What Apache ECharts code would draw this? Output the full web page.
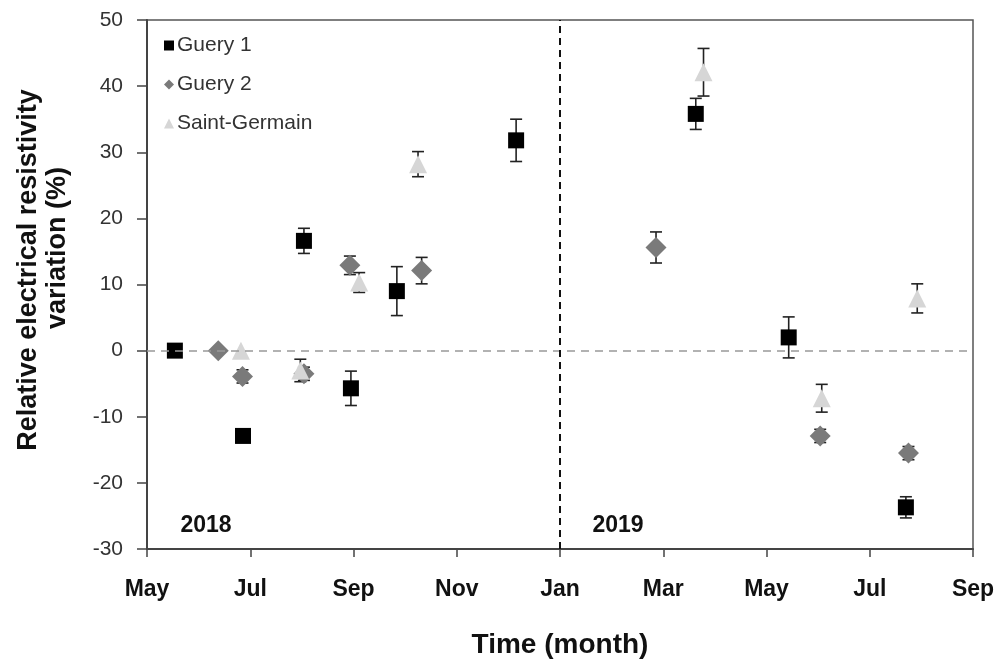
<!DOCTYPE html>
<html><head><meta charset="utf-8">
<script src="https://cdn.jsdelivr.net/npm/echarts@6/dist/echarts.min.js"></script>
<style>html,body{margin:0;padding:0;background:#fff}#c{width:1008px;height:666px}</style>
</head><body><div id="c"></div>
<script>
// x = months since 1 May 2018
const monthLabels = ['May','Jul','Sep','Nov','Jan','Mar','May','Jul','Sep'];
const seriesNames = ['Guery 1','Guery 2','Saint-Germain'];

const guery1X   = [0.54, 1.86, 3.04, 3.95, 4.84, 7.15, 10.63, 12.43, 14.70];
const guery1Y   = [0, -12.9, 16.6, -5.7, 9.0, 31.8, 35.8, 2.0, -23.7];
const guery1Err = [0, 0.8, 1.9, 2.6, 3.7, 3.2, 2.35, 3.1, 1.6];

const guery2X   = [1.38, 1.85, 3.04, 3.93, 5.32, 9.86, 13.04, 14.75];
const guery2Y   = [0, -3.9, -3.5, 12.9, 12.1, 15.6, -12.9, -15.5];
const guery2Err = [0, 1.0, 1.0, 1.4, 2.0, 2.35, 1.0, 1.0];

const sgX   = [1.82, 2.97, 4.11, 5.25, 10.78, 13.07, 14.92];
const sgY   = [0, -3.0, 10.3, 28.2, 42.1, -7.2, 7.9];
const sgErr = [0, 1.7, 1.5, 1.9, 3.6, 2.1, 2.2];

const yearLabels = ['2018', '2019'];

const FONT = "'Liberation Sans', Arial, sans-serif";
const chart = echarts.init(document.getElementById('c'));

function pts(xs, ys) { return xs.map((x, i) => [x, ys[i]]); }
function errPts(xs, ys, es) { return xs.map((x, i) => [x, ys[i], es[i]]); }

function errSeries(xs, ys, es) {
  return {
    type: 'custom',
    z: 2,
    silent: true,
    data: errPts(xs, ys, es),
    encode: { x: 0, y: 1 },
    renderItem: function (params, api) {
      const e = api.value(2);
      if (!e) return null;
      const x = api.value(0), y = api.value(1);
      const top = api.coord([x, y + e]);
      const bot = api.coord([x, y - e]);
      const hw = 6;
      const st = { stroke: '#222', lineWidth: 1.6 };
      return {
        type: 'group',
        children: [
          { type: 'line', shape: { x1: top[0], y1: top[1], x2: bot[0], y2: bot[1] }, style: st },
          { type: 'line', shape: { x1: top[0] - hw, y1: top[1], x2: top[0] + hw, y2: top[1] }, style: st },
          { type: 'line', shape: { x1: bot[0] - hw, y1: bot[1], x2: bot[0] + hw, y2: bot[1] }, style: st }
        ]
      };
    }
  };
}

chart.setOption({
  animation: false,
  backgroundColor: '#fff',
  grid: { left: 147, right: 35, top: 20, bottom: 117, show: true, borderColor: '#555', borderWidth: 1.5 },
  legend: {
    data: [
      { name: seriesNames[0], icon: 'rect' },
      { name: seriesNames[1], icon: 'diamond' },
      { name: seriesNames[2], icon: 'triangle' }
    ],
    orient: 'vertical',
    left: 159, top: 30,
    itemWidth: 10, itemHeight: 10, itemGap: 18,
    textStyle: { fontFamily: FONT, fontSize: 21, color: '#333', padding: [0, 0, 0, -2] },
    selectedMode: false
  },
  xAxis: {
    type: 'value', min: 0, max: 16, interval: 2,
    name: 'Time (month)', nameLocation: 'middle', nameGap: 82,
    nameTextStyle: { fontFamily: FONT, fontSize: 28, fontWeight: 'bold', color: '#111' },
    axisLine: { show: true, onZero: false, lineStyle: { color: '#444', width: 2 } },
    axisTick: { show: true, inside: false, length: 8, lineStyle: { color: '#444', width: 1.5 } },
    axisLabel: {
      margin: 29, fontFamily: FONT, fontSize: 23, fontWeight: 'bold', color: '#111',
      formatter: function (v) { return monthLabels[Math.round(v / 2)]; }
    },
    splitLine: { show: false }
  },
  yAxis: {
    type: 'value', min: -30, max: 50, interval: 10,
    axisLine: { show: true, onZero: false, lineStyle: { color: '#444', width: 2 } },
    axisTick: { show: true, inside: false, length: 10, lineStyle: { color: '#444', width: 1.5 } },
    axisLabel: { margin: 24, fontFamily: FONT, fontSize: 21, color: '#333' },
    splitLine: { show: false }
  },
  graphic: [
    { type: 'text', x: 29, y: 270, rotation: Math.PI / 2,
      style: { text: 'Relative electrical resistivity', font: 'bold 27px ' + FONT, fill: '#111', textAlign: 'center', textVerticalAlign: 'middle' } },
    { type: 'text', x: 58, y: 248, rotation: Math.PI / 2,
      style: { text: 'variation (%)', font: 'bold 27px ' + FONT, fill: '#111', textAlign: 'center', textVerticalAlign: 'middle' } },
    { type: 'text', x: 206, y: 526,
      style: { text: yearLabels[0], font: 'bold 23px ' + FONT, fill: '#111', textAlign: 'center', textVerticalAlign: 'middle' } },
    { type: 'text', x: 618, y: 526,
      style: { text: yearLabels[1], font: 'bold 23px ' + FONT, fill: '#111', textAlign: 'center', textVerticalAlign: 'middle' } }
  ],
  series: [
    errSeries(guery1X, guery1Y, guery1Err),
    errSeries(guery2X, guery2Y, guery2Err),
    errSeries(sgX, sgY, sgErr),
    {
      name: seriesNames[0], type: 'scatter', z: 3, symbol: 'rect', symbolSize: 16,
      itemStyle: { color: '#000', opacity: 1 }, data: pts(guery1X, guery1Y)
    },
    {
      name: seriesNames[1], type: 'scatter', z: 3, symbol: 'diamond', symbolSize: 21,
      itemStyle: { color: '#7a7a7a', opacity: 1 }, data: pts(guery2X, guery2Y)
    },
    {
      name: seriesNames[2], type: 'scatter', z: 3, symbol: 'triangle', symbolSize: 18,
      itemStyle: { color: '#d6d6d6', opacity: 1 }, data: pts(sgX, sgY)
    },
    {
      type: 'scatter', z: 5, silent: true, data: [],
      markLine: {
        silent: true, symbol: 'none', label: { show: false },
        data: [
          { yAxis: 0, lineStyle: { color: '#999', type: [8, 6], width: 1.6 } },
          { xAxis: 8, lineStyle: { color: '#111', type: [7, 5], width: 2 } }
        ]
      }
    }
  ]
});
</script>
</body></html>
